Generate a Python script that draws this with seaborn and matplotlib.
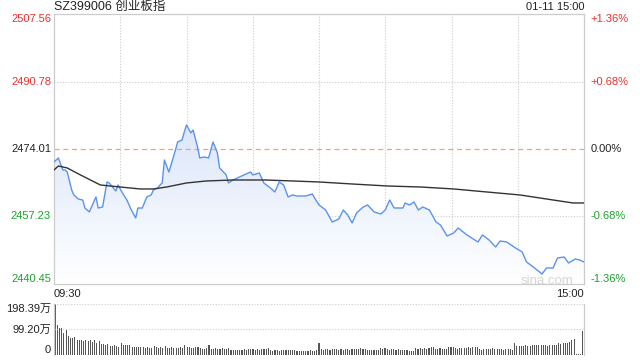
import numpy as np
import pandas as pd
import matplotlib
matplotlib.use("Agg")
import matplotlib.pyplot as plt
import seaborn as sns
from matplotlib.colors import LinearSegmentedColormap

# minutes since 09:30 (lunch break folded), traced price points
minutes = [0, 2, 4, 5, 6, 8, 9, 11, 13, 14, 15, 16, 19, 20, 22, 24, 25, 28, 29, 31,
           33, 35, 37, 38, 40, 42, 44, 45, 47, 48, 49, 50, 52, 53, 55, 56, 58, 59, 60, 62,
           63, 65, 66, 68, 70, 72, 74, 75, 78, 79, 81, 83, 86, 89, 90, 93, 95, 98, 100, 102,
           104, 106, 108, 110, 114, 117, 118, 120, 123, 126, 129, 131, 133, 135, 137, 140, 142, 145, 148, 150,
           152, 154, 158, 159, 161, 163, 165, 167, 170, 173, 175, 178, 181, 183, 187, 192, 194, 197, 200, 202,
           205, 209, 212, 214, 217, 221, 223, 226, 228, 231, 233, 236, 238, 240]
price = [2470.78, 2471.77, 2468.79, 2468.79, 2468.29, 2463.82, 2462.58, 2461.58, 2461.33, 2459.34,
         2458.85, 2458.35, 2462.08, 2459.34, 2459.59, 2465.81, 2465.56, 2463.57, 2465.06, 2463.07,
         2461.33, 2458.85, 2456.86, 2459.34, 2459.34, 2462.08, 2462.58, 2463.82, 2464.32, 2465.06,
         2465.56, 2471.28, 2468.29, 2470.03, 2473.76, 2475.75, 2476.25, 2478.24, 2479.98, 2477.99,
         2478.73, 2474.51, 2471.77, 2472.02, 2471.77, 2475.75, 2473.02, 2469.29, 2467.55, 2465.56,
         2466.30, 2466.80, 2467.55, 2468.29, 2467.55, 2468.04, 2465.56, 2464.32, 2463.32, 2465.81,
         2465.06, 2462.08, 2462.58, 2462.33, 2462.33, 2462.82, 2461.83, 2460.09, 2458.85, 2455.86,
         2456.61, 2458.85, 2457.60, 2455.62, 2458.10, 2459.59, 2460.09, 2458.35, 2457.85, 2458.85,
         2461.33, 2459.34, 2459.34, 2460.59, 2460.09, 2460.84, 2458.85, 2459.59, 2458.85, 2455.86,
         2455.12, 2452.38, 2453.13, 2454.37, 2452.63, 2450.89, 2452.63, 2451.39, 2449.65, 2451.14,
         2450.89, 2449.40, 2448.41, 2445.92, 2444.68, 2442.94, 2444.43, 2444.43, 2446.92, 2447.16,
         2445.67, 2446.67, 2446.42, 2445.92]

avg_minutes = [0, 2, 6, 12, 21, 30, 39, 45, 51, 60, 69, 81, 96, 120, 135, 151, 166, 181, 196, 211, 226, 235, 240]
avg_price = [2468.79, 2469.78, 2469.29, 2467.55, 2465.06, 2464.56, 2464.07, 2464.07, 2464.56, 2465.56,
             2466.06, 2466.30, 2466.30, 2465.81, 2465.31, 2464.81, 2464.56, 2464.07, 2463.32, 2462.58,
             2461.33, 2460.59, 2460.59]

# volume per minute, in 万
volume = [198.4, 117, 104, 106, 87, 97, 74, 67, 65, 71,
          58, 57, 58, 56, 58, 55, 57, 52, 60, 47,
          54, 42, 41, 40, 43, 36, 35, 37, 34, 31,
          45, 39, 38, 40, 37, 32, 31, 33, 30, 32,
          30, 29, 31, 28, 26, 35, 30, 29, 31, 27,
          35, 29, 28, 30, 27, 29, 28, 30, 29, 39,
          30, 31, 29, 28, 30, 32, 26, 25, 24, 26,
          39, 25, 24, 26, 25, 25, 27, 24, 25, 26,
          19, 20, 18, 21, 19, 19, 22, 21, 23, 22,
          22, 21, 23, 20, 22, 25, 24, 26, 18, 17,
          19, 18, 17, 19, 19, 20, 18, 19, 21, 18,
          16, 17, 15, 16, 17, 17, 18, 16, 17, 19,
          45, 22, 21, 23, 22, 20, 22, 23, 22, 21,
          23, 20, 22, 22, 21, 23, 22, 24, 23, 28,
          22, 23, 19, 18, 20, 19, 18, 20, 26, 24,
          29, 22, 21, 23, 22, 20, 22, 19, 18, 20,
          19, 17, 16, 17, 26, 25, 28, 24, 26, 25,
          27, 32, 31, 25, 24, 26, 25, 23, 25, 32,
          33, 31, 26, 25, 27, 26, 29, 28, 30, 29,
          32, 31, 33, 22, 21, 23, 22, 25, 24, 26,
          25, 24, 25, 22, 21, 23, 22, 22, 21, 48,
          35, 36, 34, 35, 37, 35, 36, 39, 38, 40,
          39, 37, 40, 38, 36, 39, 38, 37, 40, 45,
          44, 46, 45, 47, 52, 58, 61, 2, 2, 2,
          95]

price_ticks = [2507.56, 2490.78, 2474.01, 2457.23, 2440.45]
pct_labels = ["+1.36%", "+0.68%", "0.00%", "-0.68%", "-1.36%"]
vol_ticks = [198.39, 99.20, 0]
vol_labels = ["198.39万", "99.20万", "0"]
title = "SZ399006 创业板指"
stamp = "01-11 15:00"

sns.set_theme(style="white")
plt.rcParams['font.family'] = ['Liberation Sans', 'Noto Sans CJK SC', 'DejaVu Sans']

RED = "#e8322e"
GREEN = "#1aa32a"
BLUE = "#5b93ef"
GRID = "#cccccc"

df = pd.DataFrame({"minute": minutes, "price": price})
df_avg = pd.DataFrame({"minute": avg_minutes, "avg": avg_price})

fig = plt.figure(figsize=(6.4, 3.6), dpi=100)
ax = fig.add_axes([54/640, 1-284/360, 530/640, 270/360])
axv = fig.add_axes([54/640, 1-355/360, 530/640, 51/360])

lo, hi = price_ticks[-1], price_ticks[0]

# gradient fill under the price line
poly = ax.fill_between(df["minute"], df["price"], lo, color="none")
grad = np.linspace(1, 0, 256).reshape(-1, 1)
cmap = LinearSegmentedColormap.from_list("fill", ["#ffffff", "#dce7fa"])
img = ax.imshow(grad, cmap=cmap, aspect="auto", extent=[0, 240, lo, max(price)],
                origin="upper", zorder=1)
img.set_clip_path(poly.get_paths()[0], transform=ax.transData)

sns.lineplot(data=df, x="minute", y="price", ax=ax, color=BLUE, linewidth=1.0, zorder=3)
sns.lineplot(data=df_avg, x="minute", y="avg", ax=ax, color="#333333", linewidth=1.0, zorder=3)

for m in range(30, 240, 30):
    ax.axvline(m, color=GRID, linestyle=(0, (1, 1.5)), linewidth=0.8, zorder=0)
for v in [price_ticks[1], price_ticks[3]]:
    ax.axhline(v, color=GRID, linestyle=(0, (1, 1.5)), linewidth=0.8, zorder=0)
ax.axhline(price_ticks[2], color="#f4a46a", linestyle=(0, (4, 3)), linewidth=0.9, zorder=2)

ax.set_xlim(0, 240)
ax.set_ylim(lo, hi)
ax.set_xticks([])
ax.set_yticks([])
ax.set_xlabel("")
ax.set_ylabel("")
for s in ax.spines.values():
    s.set_color(GRID)
    s.set_linewidth(0.9)

colors = [RED, RED, "#222222", GREEN, GREEN]
vas = ["top", "center", "center", "center", "bottom"]
for v, pl, c, va in zip(price_ticks, pct_labels, colors, vas):
    ax.text(-3/530*240, v, f"{v:.2f}", ha="right", va=va, color=c, fontsize=8)
    ax.text(243, v, pl, ha="left", va=va, color=c, fontsize=8)

ax.text(0.98, -0.012, "sina.com", transform=ax.transAxes, ha="right", va="bottom",
        color="#d6d6d6", fontsize=9.5)

fig.text(54/640, 1-7/360, title, ha="left", va="center", fontsize=9, color="#222222")
fig.text(584/640, 1-7/360, stamp, ha="right", va="center", fontsize=8, color="#222222")
fig.text(54/640, 1-294/360, "09:30", ha="left", va="center", fontsize=8, color="#222222")
fig.text(584/640, 1-294/360, "15:00", ha="right", va="center", fontsize=8, color="#222222")

# volume panel
axv.bar(np.arange(len(volume)), volume, width=0.5, color="#555555", linewidth=0)
axv.set_xlim(-0.5, 240.5)
axv.set_ylim(0, vol_ticks[0])
axv.axhline(vol_ticks[0], color=GRID, linestyle=(0, (1, 1.5)), linewidth=0.8)
axv.axhline(vol_ticks[1], color=GRID, linestyle=(0, (1, 1.5)), linewidth=0.8)
axv.set_xticks([])
axv.set_yticks([])
for k in ["top", "bottom"]:
    axv.spines[k].set_visible(False)
for k in ["left", "right"]:
    axv.spines[k].set_color(GRID)
    axv.spines[k].set_linewidth(0.9)
vvas = ["top", "center", "bottom"]
for v, lab, va in zip(vol_ticks, vol_labels, vvas):
    axv.text(-4/530*241, v, lab, ha="right", va=va, fontsize=8, color="#222222")

fig.savefig("out.png", dpi=100)
